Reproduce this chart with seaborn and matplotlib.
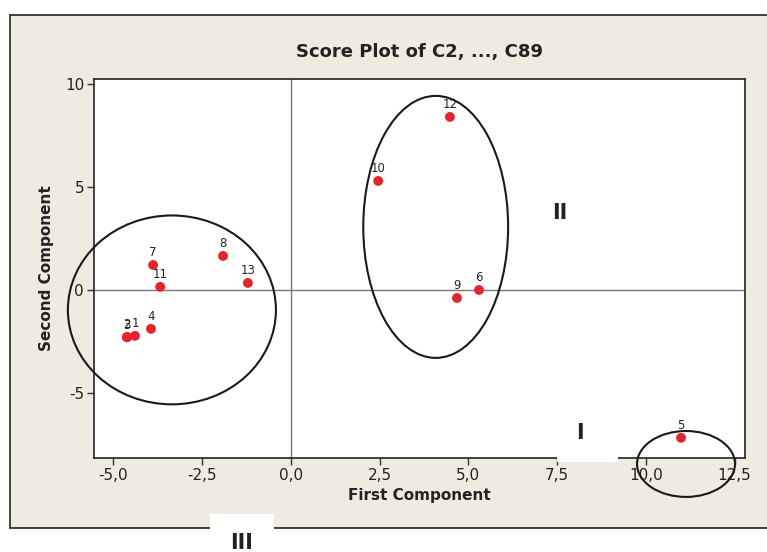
## Score plot of the first two principal components, with the groups circled by hand

import numpy as np
import pandas as pd
import matplotlib
matplotlib.use('Agg')
import matplotlib.pyplot as plt
from matplotlib.patches import Ellipse, Rectangle
import seaborn as sns

#Scores
labels = ['1', '2', '3', '4', '5', '6', '7', '8', '9', '10', '11', '12', '13']
first = [-4.39, -4.61, -4.62, -3.94, 10.99, 5.30, -3.88, -1.91, 4.68, 2.46, -3.68, 4.48, -1.21]
second = [-2.23, -2.28, -2.30, -1.89, -7.18, 0.00, 1.21, 1.65, -0.39, 5.29, 0.15, 8.40, 0.34]

xticks = [-5.0, -2.5, 0.0, 2.5, 5.0, 7.5, 10.0, 12.5]
xticklabels = ['-5,0', '-2,5', '0,0', '2,5', '5,0', '7,5', '10,0', '12,5']
yticks = [-5, 0, 5, 10]
yticklabels = ['-5', '0', '5', '10']

#Hand drawn group circles: centre x, centre y, width, height
groups = [(-3.35, -0.97, 5.86, 9.17), (4.08, 3.06, 4.08, 12.72), (11.13, -8.45, 2.76, 3.2)]

scores = pd.DataFrame({'First Component': first, 'Second Component': second, 'label': labels})

sns.set_style('white')
plt.rcParams['font.family'] = ['DejaVu Sans']

W, H = 767, 552
fig = plt.figure(figsize=(W / 100, H / 100), dpi=100)

#beige panel behind the plot
panel = Rectangle((10 / W, 1 - 528 / H), 1.0, (528 - 15) / H, transform=fig.transFigure,
                  facecolor='#efebe1', edgecolor='#333333', linewidth=1.3, zorder=-1)
fig.patches.append(panel)

ax = fig.add_axes([93.8 / W, 1 - 458 / H, (745.3 - 93.8) / W, (458 - 79) / H])
ax.set_facecolor('white')

ax.axhline(0, color='#777777', linewidth=1, zorder=1)
ax.axvline(0, color='#777777', linewidth=1, zorder=1)

sns.scatterplot(data=scores, x='First Component', y='Second Component', ax=ax,
                color='#e8222b', s=50, edgecolor='none', zorder=3)

for lab, x, y in zip(scores['label'], scores['First Component'], scores['Second Component']):
    ax.annotate(lab, (x, y), xytext=(0, 4), textcoords='offset points', ha='center', va='bottom',
                fontsize=8.5, color='#222222', zorder=4)

for cx, cy, w, h in groups:
    ax.add_patch(Ellipse((cx, cy), w, h, fill=False, edgecolor='#1a1a1a', linewidth=1.5,
                         clip_on=False, zorder=5))

ax.set_xlim(-5.55, 12.80)
ax.set_ylim(-8.16, 10.24)
ax.set_xticks(xticks)
ax.set_xticklabels(xticklabels, fontsize=11, color='#222222')
ax.set_yticks(yticks)
ax.set_yticklabels(yticklabels, fontsize=11, color='#222222')
ax.tick_params(direction='out', length=5, width=1, color='#333333', left=True, bottom=True, pad=2)
for sp in ax.spines.values():
    sp.set_color('#222222')
    sp.set_linewidth(1.2)

ax.set_xlabel('First Component', fontsize=11, fontweight='bold', color='#222222', labelpad=4)
ax.set_ylabel('Second Component', fontsize=11, fontweight='bold', color='#222222', labelpad=8)
ax.set_title('Score Plot of C2, ..., C89', fontsize=13, fontweight='bold', color='#222222', pad=16)

#group numbers with white patches under them
fig.patches.append(Rectangle((557 / W, 1 - 462 / H), 61 / W, 40 / H, transform=fig.transFigure,
                             facecolor='white', edgecolor='none', zorder=2))
fig.patches.append(Rectangle((210 / W, 1 - 540 / H), 64 / W, 26 / H, transform=fig.transFigure,
                             facecolor='white', edgecolor='none', zorder=2))
fig.text(560 / W, 1 - 213 / H, 'II', fontsize=15, fontweight='bold', color='#222222',
         ha='center', va='center', zorder=6)
fig.text(580 / W, 1 - 433 / H, 'I', fontsize=15, fontweight='bold', color='#222222',
         ha='center', va='center', zorder=6)
fig.text(242 / W, 1 - 543 / H, 'III', fontsize=15, fontweight='bold', color='#222222',
         ha='center', va='center', zorder=6)

fig.savefig('out.png', dpi=100)
